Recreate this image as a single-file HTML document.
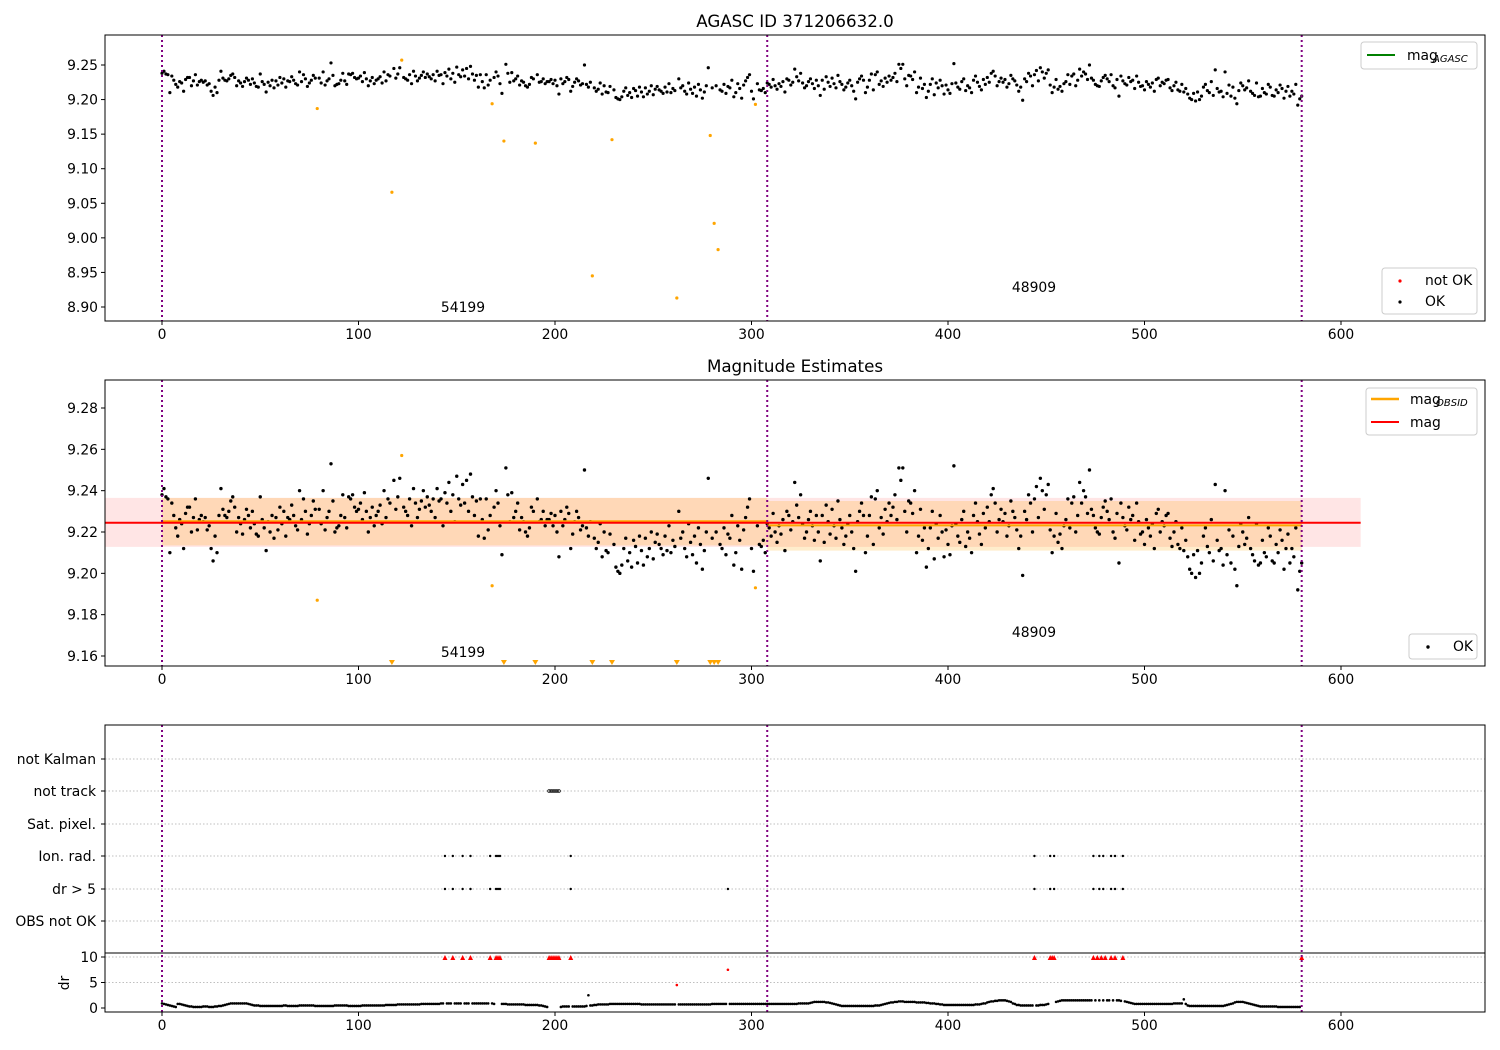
<!DOCTYPE html>
<html><head><meta charset="utf-8"><style>
body{margin:0;background:#fff}
svg{display:block;font-family:"DejaVu Sans","Liberation Sans",sans-serif}
</style></head><body>
<svg id="fig" width="1500" height="1050" viewBox="0 0 1500 1050"></svg>
<script>
// ---- data ----
const magStr = "48 51 47 46 20 44 38 32 28 36 34 22 39 42 42 30 37 46 31 36 38 35 37 31 33 22 16 28 20 38 51 41 38 37 40 45 47 42 30 37 34 29 36 41 38 32 40 34 29 28 47 36 32 21 35 30 38 27 37 31 42 34 40 28 37 36 43 38 33 31 50 36 46 40 29 34 38 45 41 x 41 34 50 31 37 40 63 45 30 32 33 38 48 37 32 47 46 48 42 40 41 44 36 49 40 30 37 42 33 38 40 43 34 50 37 46 44 x 55 41 47 56 x 42 40 38 46 33 51 44 37 41 45 50 42 47 43 40 46 37 51 45 46 33 49 44 54 40 48 35 57 46 43 53 44 55 40 58 47 38 45 28 46 36 27 46 31 38 x 42 50 44 33 19 x 61 48 35 49 37 40 44 31 37 35 30 28 32 42 40 x 46 35 36 40 33 36 36 39 33 38 30 18 40 33 36 42 39 22 29 35 40 37 31 33 60 32 28 35 x 27 22 25 34 18 30 21 20 29 x 24 13 11 10 14 22 27 16 20 13 26 23 15 28 21 14 27 18 22 30 17 25 29 24 22 19 28 21 33 20 26 23 x 40 27 30 22 18 34 25 19 28 15 32 24 12 21 30 56 x 27 x 30 x 24 22 32 19 29 27 38 14 20 33 26 12 31 37 42 46 22 11 x 33 24 23 26 20 34 32 28 39 30 25 33 29 36 21 40 38 31 35 54 43 37 48 34 27 30 36 40 33 26 38 30 16 38 25 43 35 29 41 33 27 45 36 32 24 28 34 38 30 22 11 35 40 44 38 20 28 38 47 24 46 50 32 37 29 41 35 44 38 42 48 36 61 55 61 40 30 45 44 39 50 20 28 41 26 32 13 22 32 40 17 34 27 38 30 18 31 24 19 33 62 34 28 25 36 40 23 30 27 20 38 44 35 29 24 39 32 42 35 48 51 44 30 36 41 35 39 28 33 45 40 37 31 22 28 9 40 36 48 44 30 46 52 37 56 50 41 48 53 31 20 28 39 25 29 22 33 36 46 32 44 47 30 38 54 44 50 47 39 60 41 38 32 30 29 37 42 45 40 36 46 30 27 39 15 44 37 33 31 42 36 38 26 44 35 29 30 24 36 32 28 34 22 39 41 30 35 33 38 39 27 23 30 35 24 22 32 21 26 18 12 10 19 8 21 10 15 28 32 23 20 36 16 53 26 21 22 14 50 19 31 15 28 12 4 23 34 30 24 27 37 22 19 16 34 14 15 26 20 18 32 28 16 15 24 20 31 26 12 22 29 15 22 18 32 2 11 15";
const badIdx = [79,117,122,168,174,190,219,229,262,279,281,283,302];
const badMag = [9.187,9.066,9.257,9.194,9.140,9.137,8.945,9.142,8.913,9.148,9.021,8.983,9.193];
const obsStart = [0,308];
const obsEnd = [308,580];
const obsMag = [9.2252,9.2232];
const obsLo = [9.2135,9.211];
const obsHi = [9.2365,9.235];
const obsLabel = ["54199","48909"];
const magAll = 9.2245, magLo = 9.2128, magHi = 9.2365;
const drStr = "9876543288 7654332222 2333222334 4567899999 9999876555 4444444444 4455444444 5555555544 4444444455 5555544444 4455555555 5555666666 7777777777 7788888888 8899999999 9999999999 9999999998 8888887777 7777766666 6655432111 1122333333 3333334p55 6677777788 8888888888 8888777777 7777777777 7787777777 7777777777 8888888888 8888888888 8888888888 8888888888 8888999999 abccccccbb a987654444 4444444444 4445556789 abbccdddcc ccccbbbbba a999887766 6666666666 6666777899 bcddeeffff edc9866555 5555555666 789abcdeff ffffffffff ffffffffff ffffffffee dcba988888 8888888888 8888899999 h854444444 4444444444 456789bccc cba9876543 3333333322 2222222222 2";
const drRedIdx = [262,288];
const drRedVal = [4.5,7.5];
const drHighIdx = [144,148,153,157,167,170,171,172,197,198,199,200,201,202,208,444,452,453,454,474,476,478,480,483,485,489,580];
const ionIdx = [144,148,153,157,167,170,171,172,208,444,452,454,474,477,479,483,485,489];
const drGt5Idx = [144,148,153,157,167,170,171,172,208,288,444,452,454,474,477,479,483,485,489];
const trackIdx = [197,198,199,200,201,202];
const catLabels = ["not Kalman","not track","Sat. pixel.","Ion. rad.","dr > 5","OBS not OK"];
const xTicks = [0,100,200,300,400,500,600];
const y1Ticks = [9.25,9.20,9.15,9.10,9.05,9.00,8.95,8.90];
const y2Ticks = [9.28,9.26,9.24,9.22,9.20,9.18,9.16];
const drTicks = [0,5,10];
const vLines = [0,308,580];

// ---- helpers ----
const FS=13.9, TS=16.7;
const NS="http://www.w3.org/2000/svg", svg=document.getElementById('fig');
function mk(tag,attrs,parent){const e=document.createElementNS(NS,tag);for(const k in attrs)e.setAttribute(k,attrs[k]);(parent||svg).appendChild(e);return e;}
function txt(s,x,y,anchor,size,parent){const t=mk('text',{x:x,y:y,'text-anchor':anchor||'middle','font-size':size||FS,fill:'#000'},parent);t.textContent=s;return t;}
const X = v => 162 + v*1.965;
const Y1 = v => 65 + (9.25-v)*691.4;
const Y2 = v => 408 + (9.28-v)*2066.7;
const YD = v => 1008 - v*5.1;
const catY = [759,791,824,856,889,921];
const mags = magStr.split(' ').map(s => s==='x'?null:9.19+parseInt(s)/1000);
const drs = drStr.replace(/ /g,'').split('').map(c=>parseInt(c,36)/10);
const L=105,R=1485;

function xAxis(top,bottom,name){
  const g=mk('g',{});
  
  
  xTicks.forEach(v=>{mk('line',{x1:X(v),x2:X(v),y1:bottom,y2:bottom+4,stroke:'#000'},g);txt(String(v),X(v),bottom+18,'middle',FS,g);});
}
function vlines(top,bottom){
  vLines.forEach(v=>{const l=mk('line',{x1:X(v),x2:X(v),y1:top,y2:bottom,stroke:'#800080','stroke-width':2,'stroke-dasharray':'2,3'});
  
  });
}
function frame(top,bottom,name){const r=mk('rect',{x:L,y:top,width:R-L,height:bottom-top,fill:'none',stroke:'#000','stroke-width':1});
  
  }

// ---- panel 1 ----
let t=txt('AGASC ID 371206632.0',795,27,'middle',TS);


const g1=mk('g',{});


mags.forEach((m,i)=>{if(m!==null){mk('circle',{cx:X(i),cy:Y1(m),r:1.6,fill:'#000'},g1);}});
badIdx.forEach((i,k)=>{const c=mk('circle',{cx:X(i),cy:Y1(badMag[k]),r:1.6,fill:'orange'},g1);
  });
vlines(35,321);
y1Ticks.forEach(v=>{mk('line',{x1:L-4,x2:L,y1:Y1(v),y2:Y1(v),stroke:'#000'});txt(v.toFixed(2),L-7,Y1(v)+5,'end');});
txt(obsLabel[0],463,312);txt(obsLabel[1],1034,292);
frame(35,321,'top-axes');xAxis(35,321,'x-axis-top');
let lg=mk('g',{});


mk('rect',{x:1361,y:42,width:116,height:27,rx:3,fill:'#fff',stroke:'#ccc'},lg);
mk('line',{x1:1367,x2:1395,y1:55,y2:55,stroke:'green','stroke-width':2},lg);
txt('mag',1407,60,'start',FS,lg);txt('AGASC',1433,62,'start',10,lg).setAttribute('font-style','italic');
lg=mk('g',{});


mk('rect',{x:1382,y:268,width:95,height:46,rx:3,fill:'#fff',stroke:'#ccc'},lg);
mk('circle',{cx:1400,cy:281,r:1.6,fill:'red'},lg);txt('not OK',1425,285,'start',FS,lg);
mk('circle',{cx:1400,cy:302,r:1.6,fill:'#000'},lg);txt('OK',1425,306,'start',FS,lg);

// ---- panel 2 ----
t=txt('Magnitude Estimates',795,372,'middle',TS);


let b=mk('rect',{x:L,y:Y2(magHi),width:X(610)-L,height:Y2(magLo)-Y2(magHi),fill:'rgba(255,0,0,0.1)'});


obsStart.forEach((s,k)=>{const r=mk('rect',{x:X(s),y:Y2(obsHi[k]),width:X(obsEnd[k])-X(s),height:Y2(obsLo[k])-Y2(obsHi[k]),fill:'rgba(255,165,0,0.2)'});
  
  });
const g2=mk('g',{});


mags.forEach((m,i)=>{if(m!==null)mk('circle',{cx:X(i),cy:Y2(m),r:1.7,fill:'#000'},g2);});
badIdx.forEach((i,k)=>{const y=Y2(badMag[k]);
  if(y<660)mk('circle',{cx:X(i),cy:y,r:1.6,fill:'orange'},g2);
  else mk('path',{d:`M${X(i)-3},${660} L${X(i)+3},${660} L${X(i)},${665} Z`,fill:'orange'},g2);});
obsStart.forEach((s,k)=>{const l=mk('line',{x1:X(s),x2:X(obsEnd[k]),y1:Y2(obsMag[k]),y2:Y2(obsMag[k]),stroke:'orange','stroke-width':2});
  
  });
let ml=mk('line',{x1:L,x2:X(610),y1:Y2(magAll),y2:Y2(magAll),stroke:'red','stroke-width':2});


vlines(380,666);
y2Ticks.forEach(v=>{mk('line',{x1:L-4,x2:L,y1:Y2(v),y2:Y2(v),stroke:'#000'});txt(v.toFixed(2),L-7,Y2(v)+5,'end');});
txt(obsLabel[0],463,657);txt(obsLabel[1],1034,637);
frame(380,666,'middle-axes');xAxis(380,666,'x-axis-middle');
lg=mk('g',{});


mk('rect',{x:1366,y:388,width:111,height:47,rx:3,fill:'#fff',stroke:'#ccc'},lg);
mk('line',{x1:1371,x2:1399,y1:399,y2:399,stroke:'orange','stroke-width':2.5},lg);
txt('mag',1410,404,'start',FS,lg);txt('OBSID',1436,406,'start',10,lg).setAttribute('font-style','italic');
mk('line',{x1:1371,x2:1399,y1:422,y2:422,stroke:'red','stroke-width':2},lg);
txt('mag',1410,427,'start',FS,lg);
lg=mk('g',{});


mk('rect',{x:1409,y:634,width:68,height:25,rx:3,fill:'#fff',stroke:'#ccc'},lg);
mk('circle',{cx:1428,cy:647,r:1.7,fill:'#000'},lg);txt('OK',1453,651,'start',FS,lg);

// ---- panel 3 ----
catLabels.forEach((c,k)=>{mk('line',{x1:L,x2:R,y1:catY[k],y2:catY[k],stroke:'#aaa','stroke-width':0.8,'stroke-dasharray':'1.5,2'});
  mk('line',{x1:L-4,x2:L,y1:catY[k],y2:catY[k],stroke:'#000'});
  const tl=txt(c,L-9,catY[k]+5,'end');
  
  });
[5,10].forEach(v=>mk('line',{x1:L,x2:R,y1:YD(v),y2:YD(v),stroke:'#aaa','stroke-width':0.8,'stroke-dasharray':'1.5,2'}));
mk('line',{x1:L,x2:R,y1:953,y2:953,stroke:'#000','stroke-width':1});
const g3=mk('g',{});


trackIdx.forEach(i=>mk('circle',{cx:X(i),cy:catY[1],r:1.4,fill:'none',stroke:'#000','stroke-width':0.8},g3));
ionIdx.forEach(i=>mk('circle',{cx:X(i),cy:catY[3],r:1.2,fill:'#000'},g3));
drGt5Idx.forEach(i=>mk('circle',{cx:X(i),cy:catY[4],r:1.2,fill:'#000'},g3));
const g4=mk('g',{});


drs.forEach((d,i)=>{if(drHighIdx.indexOf(i)<0&&drRedIdx.indexOf(i)<0)mk('circle',{cx:X(i),cy:YD(d),r:1.3,fill:'#000'},g4);});
drRedIdx.forEach((i,k)=>mk('circle',{cx:X(i),cy:YD(drRedVal[k]),r:1.3,fill:'red'},g4));
drHighIdx.forEach(i=>mk('path',{d:`M${X(i)-2.5},${YD(10)+3} L${X(i)+2.5},${YD(10)+3} L${X(i)},${YD(10)-2} Z`,fill:'red'},g4));
vlines(725,1012);
drTicks.forEach(v=>{mk('line',{x1:L-4,x2:L,y1:YD(v),y2:YD(v),stroke:'#000'});txt(String(v),L-7,YD(v)+5,'end');});
t=txt('dr',0,0,'middle',FS);t.setAttribute('transform','translate(69,983) rotate(-90)');


frame(725,1012,'bottom-axes');xAxis(725,1012,'x-axis-bottom');
</script>
</body></html>
